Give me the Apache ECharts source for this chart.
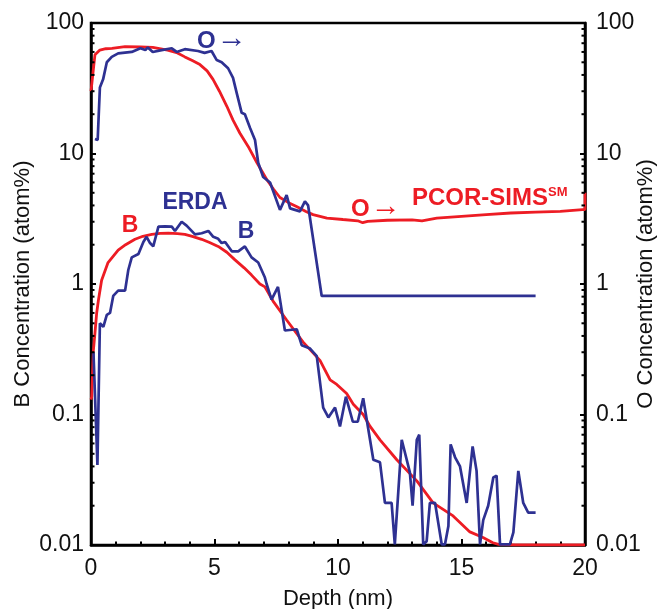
<!DOCTYPE html>
<html>
<head>
<meta charset="utf-8">
<script src="https://cdn.jsdelivr.net/npm/echarts@6/dist/echarts.min.js"></script>
<style>html,body{margin:0;padding:0;background:#fff;}#c{width:659px;height:609px;}</style>
</head>
<body>
<div id="c"></div>
<script>
// Depth (nm), concentration (atom%)
var simsO = [[0.0,30],[0.03,31],[0.1,45],[0.16,57],[0.36,62],[0.6,63.5],[0.85,64],[1.38,66],[2.0,65.5],[2.5,65],[3.1,62],[3.5,59],[3.8,55],[4.1,51.5],[4.41,48],[4.7,43],[4.94,37],[5.2,30],[5.5,23],[5.75,18],[6.03,14.3],[6.4,11],[6.72,8.5],[7.12,6.3],[7.4,5.3],[7.65,4.6],[8.0,4.2],[8.34,3.9],[8.7,3.6],[8.99,3.4],[9.55,3.2],[10.2,3.12],[10.8,3.05],[11.0,2.95],[11.2,3.02],[12.0,3.08],[13.0,3.1],[13.4,3.05],[14.0,3.2],[15.0,3.3],[16.0,3.4],[17.0,3.5],[18.0,3.55],[19.0,3.6],[19.9,3.72],[20.0,3.72],[20.0,5.0]];
var simsB = [[0.0,0.13],[0.03,0.137],[0.09,0.3],[0.16,0.42],[0.23,0.6],[0.3,0.75],[0.43,1.07],[0.69,1.46],[1.1,1.82],[1.4,2.0],[1.78,2.2],[2.1,2.32],[2.46,2.4],[2.8,2.44],[3.13,2.45],[3.5,2.43],[3.8,2.4],[4.1,2.32],[4.48,2.2],[4.8,2.08],[5.15,1.94],[5.5,1.75],[5.83,1.53],[6.2,1.33],[6.5,1.17],[6.84,1.0],[7.04,0.95],[7.37,0.74],[7.92,0.53],[8.58,0.36],[9.27,0.26],[9.68,0.184],[9.95,0.17],[10.35,0.145],[10.62,0.12],[11.02,0.10],[11.3,0.081],[11.7,0.064],[12.38,0.045],[13.19,0.031],[13.85,0.021],[14.66,0.0167],[15.34,0.0126],[15.87,0.0114],[16.27,0.0104],[16.5,0.0101],[17.2,0.01],[20.0,0.01]];
var erdaO = [[0.16,12.9],[0.27,12.7],[0.36,32],[0.49,37],[0.64,50],[0.84,55],[1.1,58.5],[1.65,60],[2.0,64],[2.2,62],[2.3,65],[2.5,60],[2.86,62],[3.27,64],[3.47,60],[3.8,63],[4.33,61],[4.6,59],[4.88,61],[5.09,52],[5.29,50],[5.55,45],[5.75,38],[5.9,29],[6.1,20.5],[6.23,20],[6.44,15.7],[6.64,12.7],[6.77,8.5],[6.97,6.6],[7.25,6.0],[7.65,3.7],[7.92,4.8],[8.06,3.8],[8.46,3.6],[8.66,4.3],[8.79,4.0],[9.34,0.81],[18.0,0.81]];
var erdaB = [[0.1,0.30],[0.26,0.041],[0.36,0.50],[0.5,0.47],[0.64,0.58],[0.77,0.6],[0.9,0.81],[1.1,0.89],[1.38,0.89],[1.51,1.28],[1.65,1.6],[1.92,1.7],[2.12,2.1],[2.25,2.3],[2.39,2.06],[2.52,1.94],[2.73,2.75],[3.0,2.76],[3.27,2.75],[3.4,2.55],[3.67,3.0],[3.87,2.8],[4.21,2.4],[4.48,2.45],[4.75,2.55],[4.95,2.3],[5.15,2.22],[5.29,2.06],[5.43,2.1],[5.7,1.78],[5.96,1.78],[6.23,1.94],[6.5,1.6],[6.77,1.46],[7.04,1.12],[7.11,1.0],[7.31,0.76],[7.57,0.95],[7.85,0.44],[8.33,0.45],[8.53,0.34],[8.87,0.32],[9.14,0.28],[9.4,0.113],[9.61,0.095],[9.88,0.113],[10.08,0.081],[10.32,0.137],[10.6,0.088],[10.8,0.088],[11.02,0.133],[11.43,0.045],[11.7,0.043],[11.9,0.021],[12.17,0.021],[12.3,0.0101],[12.58,0.064],[12.91,0.036],[13.02,0.020],[13.19,0.064],[13.29,0.07],[13.45,0.0101],[13.59,0.0107],[13.72,0.021],[13.93,0.021],[14.2,0.0101],[14.33,0.0101],[14.47,0.014],[14.56,0.059],[14.74,0.047],[14.94,0.040],[15.21,0.021],[15.45,0.057],[15.61,0.037],[15.75,0.0101],[15.88,0.0155],[16.08,0.020],[16.29,0.033],[16.42,0.034],[16.56,0.0101],[16.96,0.0101],[17.1,0.0125],[17.3,0.037],[17.5,0.021],[17.7,0.0177],[18.0,0.0177]];
var minorTickValues = [];
[0.01,0.1,1,10].forEach(function(d){for(var k=2;k<=9;k++){minorTickValues.push(+(k*d).toPrecision(3));}});
var yTitleLeft = 'B Concentration (atom%)';
var yTitleRight = 'O Concentration (atom%)';

var RED = '#ed1c24', BLUE = '#2e3192';
var FONT = '"Liberation Sans", Arial, sans-serif';
var chart = echarts.init(document.getElementById('c'), null, {renderer:'canvas'});

function yAx(pos){
  return {
    type:'log', position:pos, min:0.01, max:100, logBase:10,
    axisLine:{show:true, lineStyle:{color:'#000', width:2.5}},
    axisTick:{show:true, inside:true, length:5, lineStyle:{color:'#000', width:2}},
    axisLabel:{color:'#111', fontSize:23, fontFamily:FONT, margin: pos==='left'?7:11,
      formatter:function(v){return String(+v.toPrecision(2));}},
    splitLine:{show:false}, minorTick:{show:false}
  };
}

chart.setOption({
  animation:false,
  grid:{left:91, right:74, top:23, bottom:64, outerBoundsMode:'none', containLabel:false,
        show:true, borderColor:'#000', borderWidth:2.5, backgroundColor:'transparent'},
  xAxis:{
    type:'value', min:0, max:20, interval:5, position:'bottom',
    name:'Depth (nm)', nameLocation:'middle', nameGap:43,
    nameTextStyle:{color:'#111', fontSize:22, fontFamily:FONT},
    axisLine:{show:true, lineStyle:{color:'#000', width:2.5}},
    axisTick:{show:true, inside:true, length:6, lineStyle:{color:'#000', width:2}},
    minorTick:{show:true, splitNumber:5, length:3.5, lineStyle:{color:'#000', width:2}},
    axisLabel:{color:'#111', fontSize:23, fontFamily:FONT, margin:12},
    splitLine:{show:false}
  },
  yAxis:[yAx('left'), yAx('right')],
  series:[
    {type:'custom', silent:true, clip:false, xAxisIndex:0, yAxisIndex:0, z:5,
     data:minorTickValues.map(function(v){return [0,v];}),
     renderItem:function(params, api){
       var v = api.value(1);
       var p = api.coord([0, v]), q = api.coord([20, v]);
       var st = {stroke:'#000', lineWidth:2};
       return {type:'group', children:[
         {type:'line', shape:{x1:p[0], y1:p[1], x2:p[0]+3.5, y2:p[1]}, style:st},
         {type:'line', shape:{x1:q[0]-3.5, y1:q[1], x2:q[0], y2:q[1]}, style:st}
       ]};
     },
     encode:{x:0, y:1}},
    {type:'line', data:simsO, yAxisIndex:1, showSymbol:false, clip:true, lineStyle:{color:RED, width:2.8}, z:3},
    {type:'line', data:simsB, yAxisIndex:0, showSymbol:false, clip:true, lineStyle:{color:RED, width:2.8}, z:3},
    {type:'line', data:erdaO, yAxisIndex:1, showSymbol:false, clip:true, lineStyle:{color:BLUE, width:2.7}, z:4},
    {type:'line', data:erdaB, yAxisIndex:0, showSymbol:false, clip:true, lineStyle:{color:BLUE, width:2.7}, z:4}
  ],
  graphic:[
    {type:'text', x:23, y:284, rotation:Math.PI/2, z:10, style:{text:yTitleLeft, fontSize:22, fill:'#111', fontFamily:FONT, align:'center', verticalAlign:'middle'}},
    {type:'text', x:646, y:284, rotation:Math.PI/2, z:10, style:{text:yTitleRight, fontSize:22, fill:'#111', fontFamily:FONT, align:'center', verticalAlign:'middle'}},
    {type:'text', left:197, top:24, z:10, style:{text:'{b|O}{a|→}', rich:{
      b:{fontSize:24, fontWeight:'bold', fill:BLUE, fontFamily:FONT},
      a:{fontSize:30, fill:BLUE, fontFamily:FONT, padding:[0,0,4,1]}}}},
    {type:'text', x:195, y:203, z:10, style:{text:'ERDA', fontSize:23, fontWeight:'bold', fill:BLUE, fontFamily:FONT, align:'center', verticalAlign:'middle'}},
    {type:'text', x:246, y:232, z:10, style:{text:'B', fontSize:23, fontWeight:'bold', fill:BLUE, fontFamily:FONT, align:'center', verticalAlign:'middle'}},
    {type:'text', x:130, y:226, z:10, style:{text:'B', fontSize:23, fontWeight:'bold', fill:RED, fontFamily:FONT, align:'center', verticalAlign:'middle'}},
    {type:'text', left:351, top:192, z:10, style:{text:'{b|O}{a|→}', rich:{
      b:{fontSize:24, fontWeight:'bold', fill:RED, fontFamily:FONT},
      a:{fontSize:30, fill:RED, fontFamily:FONT, padding:[0,0,4,1]}}}},
    {type:'text', left:412, top:186, z:10, style:{text:'PCOR-SIMS{s|SM}', fontSize:24, fontWeight:'bold', fill:RED, fontFamily:FONT,
      rich:{s:{fontSize:13, fontWeight:'bold', fill:RED, fontFamily:FONT, verticalAlign:'top', padding:[0,0,10,0]}}}}
  ]
});
</script>
</body>
</html>
